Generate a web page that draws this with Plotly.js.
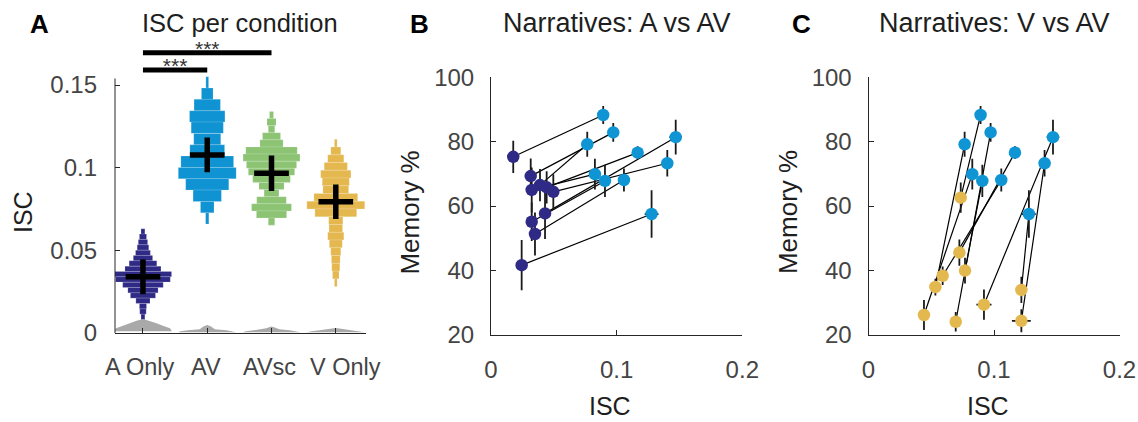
<!DOCTYPE html>
<html>
<head>
<meta charset="utf-8">
<script src="https://cdn.plot.ly/plotly-3.0.1.min.js"></script>
<style>html,body{margin:0;padding:0;background:#fff}#chart{width:1138px;height:422px}</style>
</head>
<body>
<div id="chart"></div>
<script>
// ---------- Panel A data ----------
const categories = ['A Only', 'AV', 'AVsc', 'V Only'];
const catPos = [1, 2, 3, 4];
const catColors = ['#302a87', '#0f93d2', '#8cc474', '#e4b84f'];

// histogram bins (bin centre ISC, relative width) per condition
const binA_isc = [0.0614,0.0582,0.0550,0.0517,0.0485,0.0453,0.0421,0.0388,0.0356,0.0324,0.0291,0.0259,0.0227,0.0195,0.0162,0.0130,0.0098,0.0066];
const binA_w   = [0.06,0.11,0.145,0.18,0.23,0.30,0.43,0.56,0.89,0.85,0.63,0.47,0.39,0.22,0.11,0.10,0.06,0.06];
const binAV_isc = [0.1516,0.1447,0.1379,0.1310,0.1242,0.1173,0.1104,0.1036,0.0967,0.0899,0.0830,0.0761,0.0693];
const binAV_w   = [0.042,0.18,0.41,0.55,0.50,0.42,0.54,0.82,0.90,0.67,0.44,0.21,0.05];
const binAVsc_isc = [0.1319,0.1276,0.1233,0.1190,0.1147,0.1104,0.1061,0.1018,0.0975,0.0932,0.0889,0.0846,0.0803,0.0760,0.0717,0.0674];
const binAVsc_w   = [0.062,0.14,0.10,0.28,0.36,0.80,0.885,0.78,0.72,0.585,0.39,0.23,0.46,0.62,0.47,0.10];
const binV_isc = [0.1149,0.1102,0.1055,0.1008,0.0961,0.0914,0.0867,0.0820,0.0774,0.0727,0.0680,0.0633,0.0586,0.0539,0.0492,0.0445,0.0398,0.0351,0.0304];
const binV_w   = [0.042,0.155,0.25,0.36,0.47,0.42,0.40,0.68,0.90,0.65,0.22,0.21,0.25,0.20,0.155,0.135,0.125,0.10,0.042];
const binSize = [0.00323, 0.00686, 0.0043, 0.00469];

// null (shuffled) distributions near zero: ISC level and half-width
const nullA_y = [0.0010,0.0016,0.0028,0.0045,0.0060,0.0074,0.0084];
const nullA_hw = [0.45,0.44,0.42,0.30,0.20,0.10,0.0];
const nullAV_y = [0.0004,0.0010,0.0016,0.0022,0.0030,0.0040,0.0048];
const nullAV_hw = [0.45,0.42,0.30,0.12,0.09,0.06,0.0];
const nullAVsc_y = [0.0004,0.0010,0.0016,0.0022,0.0028,0.0034,0.0040];
const nullAVsc_hw = [0.45,0.40,0.28,0.12,0.08,0.05,0.0];
const nullV_y = [0.0004,0.0010,0.0016,0.0022,0.0026,0.0030];
const nullV_hw = [0.45,0.38,0.25,0.14,0.08,0.0];

// mean +/- error per condition
const condMean = [0.034, 0.1077, 0.0966, 0.0794];
const condErr = [0.0105, 0.0105, 0.0107, 0.0105];

// significance
const sigFrom = [1, 1];
const sigTo = [2, 3];
const sigLevel = [0.1591, 0.1695];
const sigLabel = ['***', '***'];

// ---------- Panels B / C data (per subject) ----------
const iscAV = [0.0893,0.0973,0.0766,0.1470,0.1167,0.1403,0.0827,0.0907,0.1058,0.1278];
const memAV = [88.3,82.9,79.2,81.4,76.6,73.3,69.9,67.8,68.1,57.5];
const memAVerr = [2.8,2.9,3.9,5.4,2.0,4.1,4.8,5.0,3.6,7.4];
const iscAVerr = [0.003,0.003,0.003,0.005,0.003,0.004,0.003,0.003,0.003,0.0055];

const iscA = [0.0177,0.0316,0.0390,0.0430,0.0443,0.0496,0.0324,0.0324,0.0350,0.0244];
const memA = [75.3,69.3,66.5,57.7,65.8,64.4,65.0,55.1,51.3,41.6];
const memAerr = [5.0,5.5,5.0,8.0,5.0,5.5,7.0,6.0,6.7,7.8];
const iscAerr = [0.002,0.002,0.002,0.002,0.002,0.002,0.002,0.002,0.002,0.002];

const iscV = [0.0735,0.0695,0.0533,0.0920,0.0724,0.1218,0.0442,0.0769,0.0591,0.1218];
const memV = [62.6,24.0,34.8,29.3,45.5,24.3,26.1,39.9,38.3,33.9];
const memVerr = [4.7,3.0,2.6,4.7,4.1,3.6,4.7,4.0,2.9,4.1];
const iscVerr = [0.003,0.003,0.003,0.006,0.003,0.0075,0.003,0.003,0.003,0.003];

const colA = '#2f2a86', colAV = '#0f95d4', colV = '#e3b94f';

// ---------- build traces ----------
const FONT = 'Liberation Sans, Arial, Helvetica, sans-serif';
const traces = [];

// null violins
const nulls = [[nullA_y, nullA_hw], [nullAV_y, nullAV_hw], [nullAVsc_y, nullAVsc_hw], [nullV_y, nullV_hw]];
nulls.forEach((nv, k) => {
  const ys = nv[0], hw = nv[1], c = catPos[k];
  const xs = ys.map((y, i) => c - hw[i]).concat(ys.slice().reverse().map((y, i) => c + hw[hw.length - 1 - i]));
  const yy = ys.concat(ys.slice().reverse());
  traces.push({type:'scatter', mode:'lines', x: xs, y: yy, fill:'toself', fillcolor:'#a9a9a9',
    line:{width:0, color:'#a9a9a9'}, xaxis:'x', yaxis:'y', hoverinfo:'skip', showlegend:false});
});

// histogram "violins"
const bins = [[binA_isc, binA_w], [binAV_isc, binAV_w], [binAVsc_isc, binAVsc_w], [binV_isc, binV_w]];
bins.forEach((b, k) => {
  const c = catPos[k];
  traces.push({type:'bar', orientation:'h', y: b[0], x: b[1], base: b[1].map(w => c - w / 2),
    width: binSize[k], marker:{color: catColors[k], line:{color:'rgba(255,255,255,0.25)', width:0.6}},
    xaxis:'x', yaxis:'y', showlegend:false, hoverinfo:'skip'});
});

// mean crosses
traces.push({type:'scatter', mode:'markers', x: catPos, y: condMean, marker:{size:1, color:'#000'},
  error_y:{type:'data', array: condErr, color:'#000', thickness:5.5, width:0},
  error_x:{type:'constant', value:0.27, color:'#000', thickness:5.5, width:0},
  xaxis:'x', yaxis:'y', showlegend:false});

// significance stars (drawn under bars)
traces.push({type:'scatter', mode:'text', x: sigFrom.map((f, i) => (f + sigTo[i]) / 2),
  y: sigLevel.map(v => v + 0.0012), text: sigLabel, textposition:'middle center',
  textfont:{family: FONT, size:21, color:'#333'}, cliponaxis:false, xaxis:'x', yaxis:'y', showlegend:false});
sigFrom.forEach((f, i) => {
  traces.push({type:'scatter', mode:'lines', x:[f, sigTo[i]], y:[sigLevel[i], sigLevel[i]],
    line:{color:'#000', width:5}, xaxis:'x', yaxis:'y', showlegend:false});
});

// paired lines helper
function pairLines(x1, y1, x2, y2, xa, ya) {
  const xs = [], ys = [];
  for (let i = 0; i < x1.length; i++) { xs.push(x1[i], x2[i], null); ys.push(y1[i], y2[i], null); }
  return {type:'scatter', mode:'lines', x: xs, y: ys, line:{color:'#000', width:1.2},
    xaxis: xa, yaxis: ya, showlegend:false, hoverinfo:'skip'};
}
function pts(x, y, ex, ey, col, xa, ya) {
  return {type:'scatter', mode:'markers', x: x, y: y,
    marker:{size:12.5, color: col, line:{width:0}},
    error_y:{type:'data', array: ey, color:'#1a1a1a', thickness:1.8, width:0},
    error_x:{type:'data', array: ex, color:'#1a1a1a', thickness:1.8, width:0},
    xaxis: xa, yaxis: ya, showlegend:false};
}

// Panel B
traces.push(pairLines(iscA, memA, iscAV, memAV, 'x2', 'y2'));
traces.push(pts(iscA, memA, iscAerr, memAerr, colA, 'x2', 'y2'));
traces.push(pts(iscAV, memAV, iscAVerr, memAVerr, colAV, 'x2', 'y2'));
// Panel C
traces.push(pairLines(iscV, memV, iscAV, memAV, 'x3', 'y3'));
traces.push(pts(iscV, memV, iscVerr, memVerr, colV, 'x3', 'y3'));
traces.push(pts(iscAV, memAV, iscAVerr, memAVerr, colAV, 'x3', 'y3'));

// ---------- layout ----------
const tickFont = {family: FONT, size:24, color:'#444'};
const axBase = {showgrid:false, zeroline:false, ticks:'inside', ticklen:5, tickcolor:'#262626',
  linecolor:'#262626', linewidth:1, tickfont: tickFont, fixedrange:true, tickangle:0};

const W = 1138, H = 422;
const px = v => v / W, py = v => 1 - v / H;

function ann(text, x, y, size, extra) {
  return Object.assign({text: text, x: px(x), y: py(y), xref:'paper', yref:'paper', showarrow:false,
    xanchor:'center', yanchor:'middle', font:{family:FONT, size:size, color:'#1e1e1e'}}, extra || {});
}

// category labels of panel A (as axis-referenced annotations so they can be nudged apart)
const catShift = [-3, -1, -2, 10];
const catAnns = categories.map((c, i) => ({text: c, x: catPos[i], xref:'x', y: py(367), yref:'paper',
  xshift: catShift[i], showarrow:false, xanchor:'center', yanchor:'middle', font:{family:FONT, size:23.5, color:'#444'}}));

const layout = {
  width: W, height: H, margin:{l:0, r:0, t:0, b:0}, paper_bgcolor:'#fff', plot_bgcolor:'rgba(0,0,0,0)',
  showlegend:false, barmode:'overlay', bargap:0,
  xaxis: Object.assign({}, axBase, {domain:[px(115), px(366)], range:[0.565, 4.47], tickvals: catPos,
    ticktext: categories, showticklabels:false, showline:true, anchor:'y'}),
  yaxis: Object.assign({}, axBase, {domain:[py(333), py(43.7)], range:[0, 0.175], tickvals:[0, 0.05, 0.1, 0.15],
    ticktext:['0', '0.05', '0.1', '0.15'], showline:false, anchor:'x', ticklabelstandoff:17}),
  xaxis2: Object.assign({}, axBase, {domain:[px(491), px(742.3)], range:[0, 0.2], tickvals:[0, 0.1, 0.2],
    ticktext:['0', '0.1', '0.2'], showline:true, anchor:'y2', ticklabelstandoff:14}),
  yaxis2: Object.assign({}, axBase, {domain:[py(334.6), py(77.4)], range:[20, 100], tickvals:[20, 40, 60, 80, 100],
    showline:true, anchor:'x2', ticklabelstandoff:11}),
  xaxis3: Object.assign({}, axBase, {domain:[px(868.5), px(1119.5)], range:[0, 0.2], tickvals:[0, 0.1, 0.2],
    ticktext:['0', '0.1', '0.2'], showline:true, anchor:'y3', ticklabelstandoff:14}),
  yaxis3: Object.assign({}, axBase, {domain:[py(334.6), py(77.4)], range:[20, 100], tickvals:[20, 40, 60, 80, 100],
    showline:true, anchor:'x3', ticklabelstandoff:11}),
  shapes: [
    {type:'line', xref:'x domain', yref:'y', x0:0, x1:0, y0:0, y1:0.154, line:{color:'#262626', width:1}}
  ],
  annotations: [
    ann('<b>A</b>', 39.5, 24, 26, {font:{family:FONT, size:26, color:'#000'}}),
    ann('<b>B</b>', 419, 24, 26, {font:{family:FONT, size:26, color:'#000'}}),
    ann('<b>C</b>', 801, 24, 26, {font:{family:FONT, size:26, color:'#000'}}),
    ann('ISC per condition', 240, 23, 25.5),
    ann('Narratives: A vs AV', 617, 23, 27),
    ann('Narratives: V vs AV', 994, 23, 27),
    ann('ISC', 23, 212, 25, {textangle:-90}),
    ann('Memory %', 410, 212.6, 26, {textangle:-90}),
    ann('Memory %', 787.5, 212.6, 26, {textangle:-90}),
    ann('ISC', 610, 406, 25),
    ann('ISC', 987.5, 406, 25)
  ].concat(catAnns)
};

Plotly.newPlot('chart', traces, layout, {staticPlot:true, displayModeBar:false});
</script>
</body>
</html>
